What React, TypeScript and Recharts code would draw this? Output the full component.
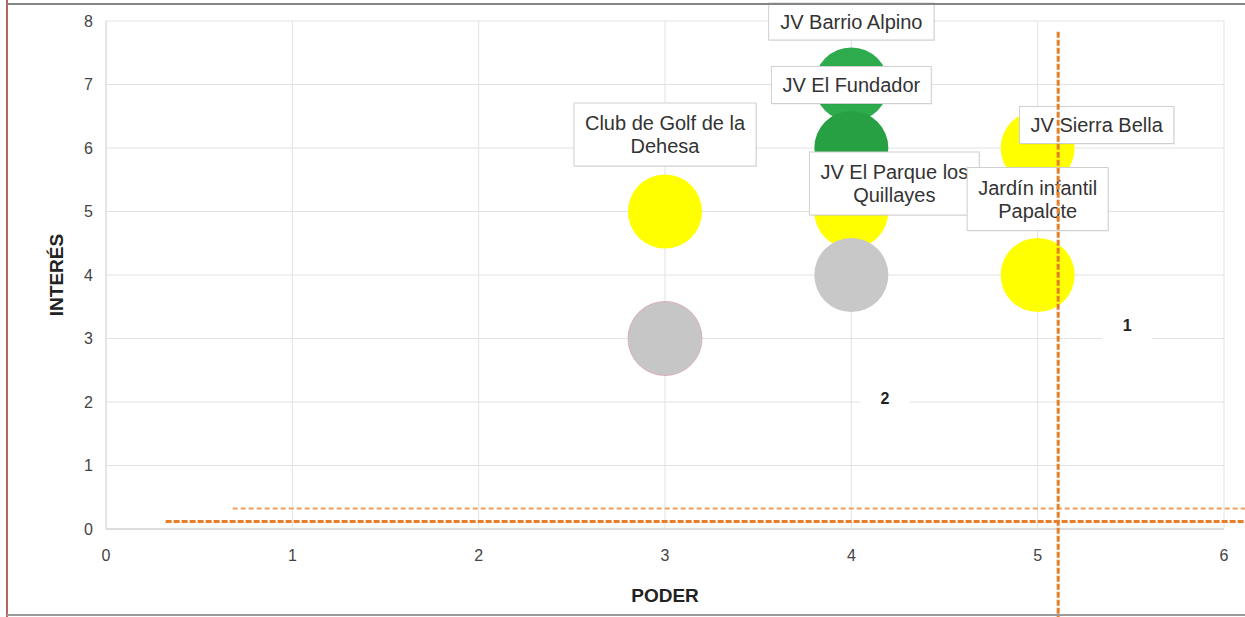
import React from 'react';
import { ScatterChart, Scatter, XAxis, YAxis, CartesianGrid, ReferenceLine, Label } from 'recharts';

// actores del mapa de poder / interés
const actores = [
  'JV Barrio Alpino',
  'JV El Fundador',
  'Club de Golf de la Dehesa',
  'JV El Parque los Quillayes',
  'JV Sierra Bella',
  'Jardín infantil Papalote',
  '',
  '',
];
const poder = [4, 4, 3, 4, 5, 5, 3, 4];
const interes = [7, 6, 5, 5, 6, 4, 3, 4];
const colores = ['#2eab4c', '#26a043', '#ffff00', '#ffff00', '#ffff00', '#ffff00', '#c6c6c6', '#c8c8c8'];
const bordes = ['none', 'none', 'none', 'none', 'none', 'none', '#dcb0b8', 'none'];

// desplazamiento de las cajas de texto respecto de cada burbuja
const etiquetaDx = [0, 0, 0, 43, 59, 0, 0, 0];
const etiquetaDy = [-63, -63, -77, -28, -23, -76, 0, 0];

const ticksPoder = [0, 1, 2, 3, 4, 5, 6];
const ticksInteres = [0, 1, 2, 3, 4, 5, 6, 7, 8];

// zonas marcadas
const zonas = ['1', '2'];
const zonaPoder = [5.48, 4.18];
const zonaInteres = [3.2, 2.06];

// líneas guía naranjas (dibujadas encima de todo)
const guiaVertical = [{ x: 5.11, y: 7.83 }, { x: 5.11, y: -1.45 }];
const guiaGruesa = [{ x: 0.32, y: 0.118 }, { x: 6.2, y: 0.118 }];
const guiaFina = [{ x: 0.68, y: 0.323 }, { x: 6.2, y: 0.323 }];

const FONT = '"Liberation Sans", Arial, sans-serif';
const W = 1245;
const H = 617;
const MARGEN = { top: 21, right: 21, bottom: 0, left: 46 };

const puntos = actores.map((nombre, i) => ({
  nombre,
  x: poder[i],
  y: interes[i],
  color: colores[i],
  borde: bordes[i],
  dx: etiquetaDx[i],
  dy: etiquetaDy[i],
}));

const datosZonas = zonas.map((t, i) => ({ t, x: zonaPoder[i], y: zonaInteres[i] }));

let ctx: CanvasRenderingContext2D | null = null;
const medir = (t: string) => {
  if (!ctx) ctx = document.createElement('canvas').getContext('2d');
  if (!ctx) return t.length * 10;
  ctx.font = `20px ${FONT}`;
  return ctx.measureText(t).width;
};

const partir = (texto: string, max = 18) => {
  const lineas: string[] = [];
  let actual = '';
  texto.split(' ').forEach(p => {
    const prueba = actual ? actual + ' ' + p : p;
    if (prueba.length > max && actual) {
      lineas.push(actual);
      actual = p;
    } else actual = prueba;
  });
  if (actual) lineas.push(actual);
  return lineas;
};

const Burbuja = (props: any) => {
  const { cx, cy, payload } = props;
  return <circle cx={cx} cy={cy} r={37} fill={payload.color} stroke={payload.borde} strokeWidth={1} />;
};

const Etiqueta = (props: any) => {
  const { cx, cy, payload } = props;
  if (!payload.nombre) return <g />;
  const lineas = partir(payload.nombre);
  const ancho = Math.max(...lineas.map(medir)) + 22;
  const alto = lineas.length === 1 ? 37 : 63;
  const mx = cx + payload.dx;
  const my = cy + payload.dy;
  return (
    <g>
      <rect x={mx - ancho / 2 + 1} y={my - alto / 2 + 1} width={ancho} height={alto} fill="rgba(0,0,0,0.08)" />
      <rect x={mx - ancho / 2} y={my - alto / 2} width={ancho} height={alto} fill="#fff" stroke="#d0d0d0" />
      {lineas.map((l, k) => (
        <text
          key={k}
          x={mx}
          y={my + (k - (lineas.length - 1) / 2) * 23}
          textAnchor="middle"
          dominantBaseline="central"
          fontSize={20}
          fill="#333"
          fontFamily={FONT}
        >
          {l}
        </text>
      ))}
    </g>
  );
};

const Zona = (props: any) => {
  const { cx, cy, payload } = props;
  return (
    <g>
      <rect x={cx - 25} y={cy - 14} width={50} height={28} fill="#fff" />
      <text x={cx} y={cy} textAnchor="middle" dominantBaseline="central" fontSize={16} fontWeight="bold" fill="#222" fontFamily={FONT}>
        {payload.t}
      </text>
    </g>
  );
};

const SinPunto = () => <g />;

const App: React.FC = () => {
  return (
    <div style={{ position: 'absolute', left: 0, top: 0, width: W, height: H, background: '#fff' }}>
      <ScatterChart width={W} height={H} margin={MARGEN}>
        <CartesianGrid stroke="#e2e2e2" />
        <XAxis
          type="number"
          dataKey="x"
          domain={[0, 6]}
          ticks={ticksPoder}
          interval={0}
          tickLine={false}
          tickMargin={15}
          height={88}
          axisLine={{ stroke: '#c8c8c8' }}
          tick={{ fill: '#444', fontSize: 16, fontFamily: FONT }}
        >
          <Label
            content={(p: any) => (
              <text
                x={p.viewBox.x + p.viewBox.width / 2}
                y={p.viewBox.y + 66}
                textAnchor="middle"
                dominantBaseline="central"
                fontSize={19}
                fontWeight="bold"
                fill="#222"
                fontFamily={FONT}
              >
                PODER
              </text>
            )}
          />
        </XAxis>
        <YAxis
          type="number"
          dataKey="y"
          domain={[0, 8]}
          ticks={ticksInteres}
          interval={0}
          tickLine={false}
          tickMargin={7}
          width={60}
          axisLine={{ stroke: '#dadada' }}
          tick={{ fill: '#444', fontSize: 16, fontFamily: FONT }}
        >
          <Label
            content={(p: any) => (
              <text
                transform={`translate(${p.viewBox.x + 10}, ${p.viewBox.y + p.viewBox.height / 2}) rotate(-90)`}
                textAnchor="middle"
                dominantBaseline="central"
                fontSize={19}
                fontWeight="bold"
                fill="#222"
                fontFamily={FONT}
              >
                INTERÉS
              </text>
            )}
          />
        </YAxis>
        <Scatter data={datosZonas} shape={Zona} isAnimationActive={false} />
        <Scatter data={puntos} shape={Burbuja} isAnimationActive={false} />
        <Scatter data={puntos} shape={Etiqueta} isAnimationActive={false} />
      </ScatterChart>

      {/* capa superior con las líneas guía, mismas escalas que el gráfico */}
      <div style={{ position: 'absolute', left: 0, top: 0, pointerEvents: 'none' }}>
        <ScatterChart width={W} height={H} margin={{ top: 21, right: 21, bottom: 88, left: 106 }}>
          <XAxis type="number" dataKey="x" domain={[0, 6]} hide />
          <YAxis type="number" dataKey="y" domain={[0, 8]} hide />
          <Scatter data={datosZonas} shape={SinPunto} isAnimationActive={false} />
          <ReferenceLine segment={guiaFina} ifOverflow="visible" stroke="#f2a060" strokeWidth={2} strokeDasharray="5 3" />
          <ReferenceLine segment={guiaGruesa} ifOverflow="visible" stroke="#e57f2a" strokeWidth={3} strokeDasharray="6 2" />
          <ReferenceLine segment={guiaVertical} ifOverflow="visible" stroke="#e57f2a" strokeWidth={3} strokeDasharray="6 2" />
        </ScatterChart>
      </div>

      <div style={{ position: 'absolute', left: 6, top: 0, width: 2, height: H, background: '#b5655e' }} />
      <div style={{ position: 'absolute', left: 7, top: 3, width: W - 7, height: 2, background: '#858585' }} />
      <div style={{ position: 'absolute', left: 7, top: 614, width: W - 7, height: 2, background: '#9a9a9a' }} />
    </div>
  );
};

export default App;
